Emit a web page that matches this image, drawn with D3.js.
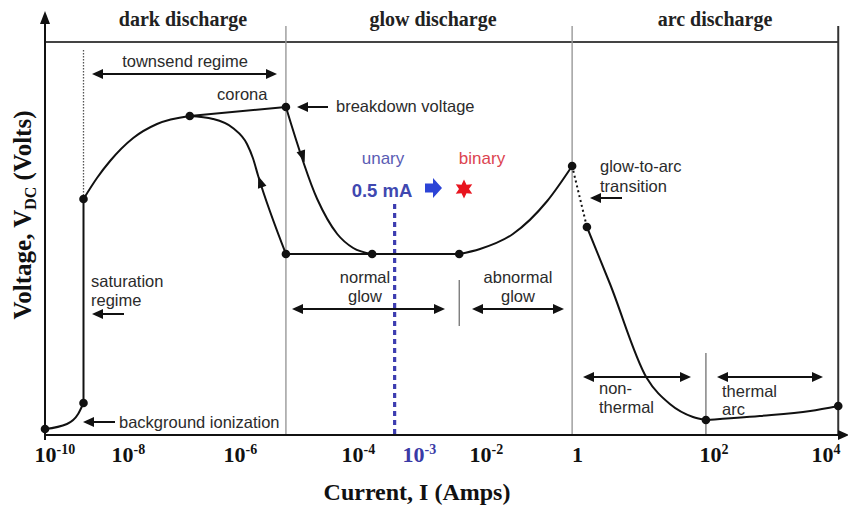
<!DOCTYPE html>
<html>
<head>
<meta charset="utf-8">
<script src="https://cdn.jsdelivr.net/npm/d3@7"></script>
<style>
  body { margin: 0; background: #fff; }
  svg { display: block; }
</style>
</head>
<body>
<svg id="chart" width="848" height="509"></svg>
<script>
// ---- Tick values: log10 of current (A) ----
const tickExp = [-10, -8, -6, -4, -3, -2, 0, 2, 4];

// ---- V–I characteristic, as [log10(I / A), voltage (arbitrary units)] ----
const backgroundIonization = [[-10, 1.5], [-9.43, 2.75], [-9.14, 5.25], [-9.0, 8]];
const saturation = [[-9.0, 8], [-9.0, 59]];
const townsend = [[-9.0, 59], [-8.65, 64.25], [-8.31, 68.5], [-7.8, 74.25], [-7.375, 77.75], [-6.79, 79.75]];
const corona = [[-6.79, 79.75], [-5.12, 82]];
const hysteresis = [[-6.79, 79.75], [-6.375, 79], [-6.02, 76.75], [-5.78, 72.75], [-5.68, 69.25], [-5.59, 64.75], [-5.12, 45.25]];
const breakdownDrop = [[-5.12, 82], [-4.59, 59], [-4.25, 50.25], [-3.98, 46.75], [-3.67, 45.25]];
const normalGlow = [[-5.12, 45.25], [-2.31, 45.25]];
const abnormalGlow = [[-2.31, 45.25], [-2.0, 46.5], [-1.3, 50.25], [-0.57, 58.5], [-0.04, 67.25]];
const glowToArc = [[-0.04, 67.25], [0.19, 52]];
const nonThermalArc = [[0.19, 52], [0.53, 37.75], [1.07, 14.25], [1.41, 7.75], [1.75, 4.5], [1.94, 3.75]];
const thermalArc = [[1.94, 3.75], [2.89, 4.75], [3.79, 6], [4.29, 7.25]];
const markedPoints = [[-10, 1.5], [-9.0, 8], [-9.0, 59], [-6.79, 79.75], [-5.12, 82], [-5.12, 45.25],
                      [-3.67, 45.25], [-2.31, 45.25], [-0.04, 67.25], [0.19, 52], [1.94, 3.75], [4.29, 7.25]];

// Regime boundaries (log10 I) and sub-regime separators
const regimeBounds = [-5.12, -0.04, 4.29];
const subSeparators = [-2.31, 1.94];
const regimes = ["dark discharge", "glow discharge", "arc discharge"];
const operatingCurrent = 0.5e-3; // 0.5 mA

const svg = d3.select("#chart");
const W = 848, H = 509;
svg.append("rect").attr("width", W).attr("height", H).attr("fill", "#fff");

const SERIF = "'Liberation Serif', 'Times New Roman', serif";
const SANS = "'Liberation Sans', Arial, sans-serif";

// Piecewise log axis: decades are not evenly spaced on this sketch
const x = d3.scaleLinear().domain(tickExp).range([45, 122, 234, 352, 413, 480, 574, 710, 822]);
const y = d3.scaleLinear().domain([0, 100]).range([435, 35]);

const smooth = d3.line().x(d => x(d[0])).y(d => y(d[1])).curve(d3.curveMonotoneX);
const straight = d3.line().x(d => x(d[0])).y(d => y(d[1]));

// ---- helpers ----
function head(g, tx, ty, ang, len = 11, wid = 10, fill = "#111") {
  const p = [[0, 0], [-len, -wid / 2], [-len, wid / 2]];
  const c = Math.cos(ang), s = Math.sin(ang);
  const pts = p.map(([a, b]) => [tx + a * c - b * s, ty + a * s + b * c]);
  g.append("path").attr("d", "M" + pts.join("L") + "Z").attr("fill", fill);
}
function leftArrow(g, xTip, xTail, yy) {
  g.append("line").attr("x1", xTip + 6).attr("x2", xTail).attr("y1", yy).attr("y2", yy)
    .attr("stroke", "#111").attr("stroke-width", 2);
  head(g, xTip, yy, Math.PI);
}
function spanArrow(g, x1, x2, yy) {
  g.append("line").attr("x1", x1 + 6).attr("x2", x2 - 6).attr("y1", yy).attr("y2", yy)
    .attr("stroke", "#111").attr("stroke-width", 2);
  head(g, x1, yy, Math.PI);
  head(g, x2, yy, 0);
}

// ---- frame: top band line, regime boundaries ----
const frame = svg.append("g");
frame.append("line").attr("x1", x(-10)).attr("x2", x(regimeBounds[2])).attr("y1", 42).attr("y2", 42)
  .attr("stroke", "#444").attr("stroke-width", 2);
regimeBounds.forEach((b, i) => {
  frame.append("line").attr("x1", x(b)).attr("x2", x(b)).attr("y1", 26).attr("y2", y(0))
    .attr("stroke", i === 2 ? "#333" : "#999").attr("stroke-width", i === 2 ? 2 : 1.4);
});
subSeparators.forEach((b, i) => {
  frame.append("line").attr("x1", x(b)).attr("x2", x(b))
    .attr("y1", i === 0 ? 280 : 353).attr("y2", i === 0 ? 326 : y(0))
    .attr("stroke", "#666").attr("stroke-width", 1.2);
});
// dotted marker at onset of saturation
frame.append("line").attr("x1", x(-9)).attr("x2", x(-9)).attr("y1", 50).attr("y2", y(59))
  .attr("stroke", "#555").attr("stroke-width", 1.3).attr("stroke-dasharray", "1.5,1.5");

// regime titles
const titleX = [183, 433, 715];
regimes.forEach((r, i) => {
  svg.append("text").attr("x", titleX[i]).attr("y", 26).attr("text-anchor", "middle")
    .attr("font-family", SERIF).attr("font-weight", "bold").attr("font-size", 20)
    .attr("fill", "#222").text(r);
});

// ---- axes ----
const axes = svg.append("g");
axes.append("line").attr("x1", x(-10)).attr("x2", x(-10)).attr("y1", y(0) + 5).attr("y2", 20)
  .attr("stroke", "#111").attr("stroke-width", 2);
head(axes, x(-10), 11, -Math.PI / 2, 13, 10);
axes.append("line").attr("x1", x(-10)).attr("x2", 840).attr("y1", y(0)).attr("y2", y(0))
  .attr("stroke", "#111").attr("stroke-width", 2);
head(axes, 849, y(0), 0, 11, 10);

const gx = svg.append("g").attr("transform", `translate(0,${y(0)})`)
  .call(d3.axisBottom(x).tickValues(tickExp).tickSize(0).tickFormat(() => ""));
gx.select(".domain").remove();
gx.selectAll(".tick").each(function (d) {
  const col = d === -3 ? "#3a3aa6" : "#111";
  const t = d3.select(this).append("text")
    .attr("y", 27).attr("font-family", SERIF).attr("font-weight", "bold")
    .attr("font-size", 22).attr("fill", col);
  if (d === 0) {
    t.attr("x", 3).attr("text-anchor", "middle").text("1");
  } else {
    t.attr("x", -11).attr("text-anchor", "start");
    t.append("tspan").text("10");
    t.append("tspan").attr("dy", -8).attr("font-size", 14).text(String(d).replace("-", "-"));
  }
});

svg.append("text").attr("x", 417).attr("y", 500).attr("text-anchor", "middle")
  .attr("font-family", SERIF).attr("font-weight", "bold").attr("font-size", 24)
  .attr("fill", "#111").text("Current, I (Amps)");

const yl = svg.append("text").attr("transform", "translate(31,215) rotate(-90)")
  .attr("text-anchor", "middle").attr("font-family", SERIF).attr("font-weight", "bold")
  .attr("font-size", 25).attr("fill", "#111");
yl.append("tspan").text("Voltage, V");
yl.append("tspan").attr("dy", 5).attr("font-size", 16).text("DC");
yl.append("tspan").attr("dy", -5).text(" (Volts)");

// ---- operating point at 0.5 mA ----
svg.append("line").attr("x1", x(Math.log10(operatingCurrent))).attr("x2", x(Math.log10(operatingCurrent)))
  .attr("y1", 204).attr("y2", y(0)).attr("stroke", "#3d3db0").attr("stroke-width", 3.2)
  .attr("stroke-dasharray", "5,4");

// ---- characteristic curve ----
const curve = svg.append("g").attr("fill", "none").attr("stroke", "#111").attr("stroke-width", 2);
[backgroundIonization, townsend, hysteresis, breakdownDrop, abnormalGlow, nonThermalArc, thermalArc]
  .forEach(s => curve.append("path").attr("d", smooth(s)));
[saturation, corona, normalGlow].forEach(s => curve.append("path").attr("d", straight(s)));
curve.append("path").attr("d", straight(glowToArc)).attr("stroke-dasharray", "2,3");

svg.append("g").selectAll("circle").data(markedPoints).join("circle")
  .attr("cx", d => x(d[0])).attr("cy", d => y(d[1])).attr("r", 4.3).attr("fill", "#111");

// direction arrows along the hysteresis loop
const hyA = hysteresis[hysteresis.length - 1], hyB = hysteresis[hysteresis.length - 2];
head(svg, x(hyB[0]), y(hyB[1]), Math.atan2(y(hyB[1]) - y(hyA[1]), x(hyB[0]) - x(hyA[0])), 12, 9);
const bdA = breakdownDrop[0], bdB = breakdownDrop[1];
const bdT = [bdA[0] + 0.6 * (bdB[0] - bdA[0]), bdA[1] + 0.6 * (bdB[1] - bdA[1])];
head(svg, x(bdT[0]), y(bdT[1]), Math.atan2(y(bdB[1]) - y(bdA[1]), x(bdB[0]) - x(bdA[0])), 12, 9);

// ---- annotations ----
const ann = svg.append("g");
const notes = [
  ["townsend regime", 185, 67, "middle"], ["corona", 217, 100, "start"],
  ["breakdown voltage", 336, 112, "start"], ["saturation", 91, 287, "start"],
  ["regime", 91, 306, "start"], ["background ionization", 119, 428, "start"],
  ["normal", 365, 283, "middle"], ["glow", 365, 302, "middle"],
  ["abnormal", 518, 283, "middle"], ["glow", 518, 302, "middle"],
  ["glow-to-arc", 600, 172, "start"], ["transition", 600, 192, "start"],
  ["non-", 599, 394, "start"], ["thermal", 599, 413, "start"],
  ["thermal", 722, 397, "start"], ["arc", 722, 415, "start"]
];
notes.forEach(([t, nx, ny, a]) => {
  ann.append("text").attr("x", nx).attr("y", ny).attr("text-anchor", a)
    .attr("font-family", SANS).attr("font-size", 16.5).attr("fill", "#2b2b2b").text(t);
});

spanArrow(ann, 92, 277, 74);
spanArrow(ann, 292, 445, 309);
spanArrow(ann, 472, 564, 309);
spanArrow(ann, 583, 691, 377);
spanArrow(ann, 717, 823, 377);
leftArrow(ann, 297, 328, 107);
leftArrow(ann, 92, 124, 314);
leftArrow(ann, 83, 115, 422);
leftArrow(ann, 590, 622, 198);

// unary → binary labels
ann.append("text").attr("x", 383).attr("y", 164).attr("text-anchor", "middle")
  .attr("font-family", SANS).attr("font-size", 17).attr("fill", "#5a5cb4").text("unary");
ann.append("text").attr("x", 482).attr("y", 164).attr("text-anchor", "middle")
  .attr("font-family", SANS).attr("font-size", 17).attr("fill", "#dc4450").text("binary");
ann.append("text").attr("x", 382).attr("y", 197).attr("text-anchor", "middle")
  .attr("font-family", SANS).attr("font-weight", "bold").attr("font-size", 18.5)
  .attr("fill", "#4048b0").text("0.5 mA");

// block arrow
ann.append("path").attr("d", "M425,183.5H433V178L442,188L433,198V192.5H425Z").attr("fill", "#2c44d6");
// six-pointed star
const star = d3.range(12).map(i => {
  const r = i % 2 === 0 ? 9.5 : 5;
  const a = -Math.PI / 2 + i * Math.PI / 6;
  return [464 + r * Math.cos(a), 189 + r * Math.sin(a)];
});
ann.append("path").attr("d", "M" + star.join("L") + "Z").attr("fill", "#e8141e");
</script>
</body>
</html>
